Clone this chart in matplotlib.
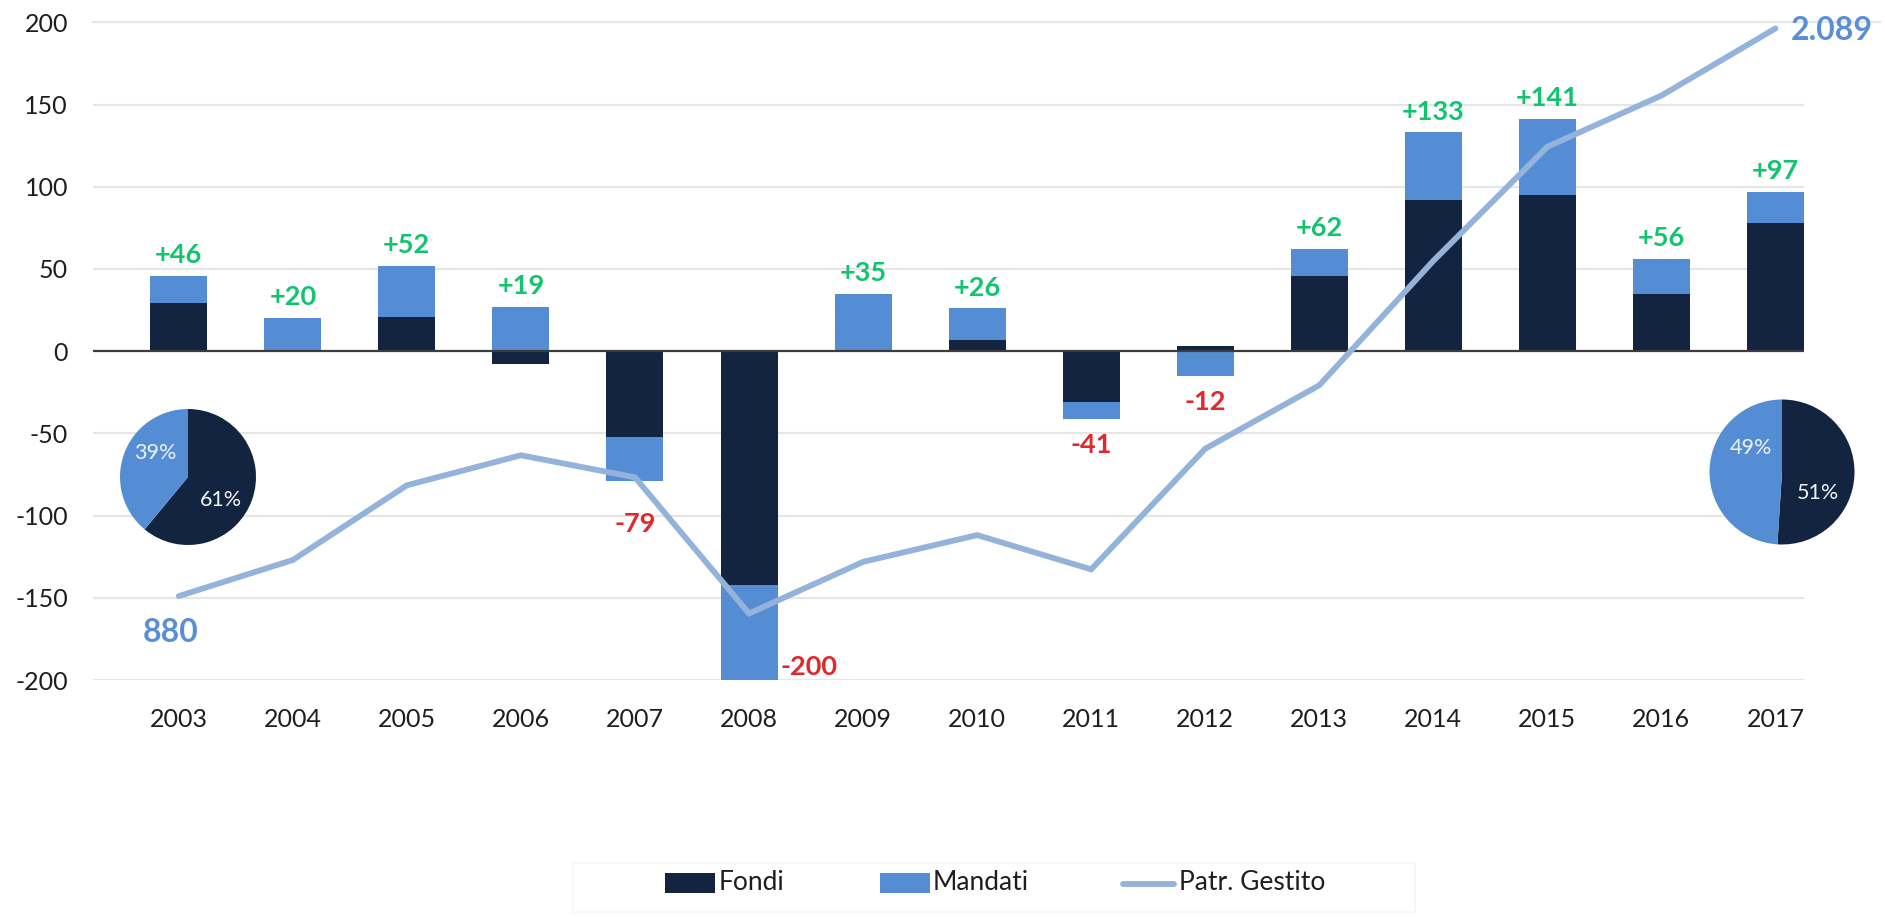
import matplotlib
matplotlib.use("Agg")
import matplotlib.pyplot as plt
import matplotlib.transforms as mtransforms
from matplotlib.patches import Rectangle
import numpy as np

plt.rcParams["font.family"] = ["Lato", "DejaVu Sans"]
plt.rcParams["axes.unicode_minus"] = False

# ---- data ---------------------------------------------------------------
years = ["2003", "2004", "2005", "2006", "2007", "2008", "2009", "2010",
         "2011", "2012", "2013", "2014", "2015", "2016", "2017"]
fondi = [29, 0, 21, -8, -52, -142, 0, 7, -31, 3, 46, 92, 95, 35, 78]
mandati = [17, 20, 31, 27, -27, -58, 35, 19, -10, -15, 16, 41, 46, 21, 19]
totals = [46, 20, 52, 19, -79, -200, 35, 26, -41, -12, 62, 133, 141, 56, 97]
patrimonio = [880, 957, 1116, 1180, 1133, 843, 953, 1010, 937, 1194,
              1329, 1594, 1837, 1946, 2089]
pie_2003 = [61, 39]   # Fondi, Mandati (%)
pie_2017 = [51, 49]
y_ticks = [-200, -150, -100, -50, 0, 50, 100, 150, 200]

# ---- style --------------------------------------------------------------
DARK = "#12243f"
LIGHT = "#558dd5"
LINE = "#94b3db"
GREEN = "#12c46e"
RED = "#e0282d"
BLUE_TXT = "#5a8fd7"
GRID = "#e6e6e6"
TXT = "#1e1e1e"

W, H = 1885, 918
fig = plt.figure(figsize=(W / 100, H / 100), dpi=100)
fig.patch.set_facecolor("white")

ax_l, ax_r, ax_t, ax_b = 93, 1804, 22.3, 680
ax = fig.add_axes([ax_l / W, 1 - ax_b / H, (ax_r - ax_l) / W, (ax_b - ax_t) / H])

x = np.arange(len(years))
ax.set_xlim(-0.752, 14.25)
ax.set_ylim(-200, 200)

# stacked bars: positives grow up from zero, negatives grow down
pos_base = np.zeros(len(x))
neg_base = np.zeros(len(x))
for vals, col in ((fondi, DARK), (mandati, LIGHT)):
    v = np.array(vals, dtype=float)
    bottom = np.where(v >= 0, pos_base, neg_base)
    ax.bar(x, v, bottom=bottom, width=0.5, color=col, linewidth=0, zorder=3)
    pos_base = pos_base + np.where(v > 0, v, 0)
    neg_base = neg_base + np.where(v < 0, v, 0)

# grid and zero line
for t in y_ticks:
    if t == 0:
        continue
    ax.axhline(t, color=GRID, lw=1.6, zorder=1)
ax.axhline(0, color="#3c3c3c", lw=1.6, zorder=4)
blend = mtransforms.blended_transform_factory(ax.transAxes, ax.transData)
ax.plot([0, (1880 - ax_l) / (ax_r - ax_l)], [200, 200], color=GRID, lw=1.6,
        transform=blend, clip_on=False, zorder=1)

for s in ax.spines.values():
    s.set_visible(False)
ax.set_yticks(y_ticks)
ax.set_yticklabels([str(t) for t in y_ticks])
ax.set_xticks(x)
ax.set_xticklabels(years)
ax.tick_params(axis="y", length=0, pad=18, labelsize=18, labelcolor=TXT)
ax.tick_params(axis="x", length=0, pad=20, labelsize=18, labelcolor=TXT)

# total labels, placed beyond the end of the stack
neg_offsets = {"2007": -31}
for i, t in enumerate(totals):
    if t >= 0:
        ax.annotate(f"+{t}", (i, pos_base[i]), xytext=(0, 15),
                    textcoords="offset points", ha="center", va="center",
                    fontsize=19.5, fontweight="bold", color=GREEN, zorder=6)
    elif t <= -200:
        ax.annotate(f"{t}", (i + 0.25, neg_base[i]), xytext=(2, 9.5),
                    textcoords="offset points", ha="left", va="center",
                    fontsize=19.5, fontweight="bold", color=RED, zorder=6)
    else:
        dy = neg_offsets.get(years[i], -19)
        ax.annotate(f"{t}", (i, neg_base[i]), xytext=(0, dy),
                    textcoords="offset points", ha="center", va="center",
                    fontsize=19.5, fontweight="bold", color=RED, zorder=6)

# managed assets line on its own scale
ax2 = ax.twinx()
ax2.set_ylim(701.4, 2102.0)
ax2.set_xlim(ax.get_xlim())
ax2.plot(x, patrimonio, color=LINE, lw=4.2, solid_joinstyle="miter",
         solid_capstyle="round", zorder=5)
ax2.axis("off")


def fmt_it(v):
    return f"{v:,}".replace(",", ".")


ax2.annotate(fmt_it(patrimonio[0]), (x[0], patrimonio[0]), xytext=(-6, -26),
             textcoords="offset points", ha="center", va="center",
             fontsize=23, fontweight="bold", color=BLUE_TXT)
ax2.annotate(fmt_it(patrimonio[-1]), (x[-1], patrimonio[-1]), xytext=(11, -1.5),
             textcoords="offset points", ha="left", va="center",
             fontsize=23, fontweight="bold", color=BLUE_TXT, annotation_clip=False)


# composition pies
def draw_pie(cx, cy, r, vals, pos):
    pax = fig.add_axes([(cx - r) / W, 1 - (cy + r) / H, 2 * r / W, 2 * r / H])
    pax.pie(vals, colors=[DARK, LIGHT], startangle=90, counterclock=False,
            wedgeprops=dict(linewidth=0))
    pax.set_xlim(-1, 1)
    pax.set_ylim(-1, 1)
    pax.set_aspect("equal")
    for v, (px, py) in zip(vals, pos):
        pax.text(px, py, f"{v}%", ha="center", va="center", fontsize=15.5,
                 color="#eef3fa")


draw_pie(188, 477, 68, pie_2003, [(0.49, -0.34), (-0.48, 0.35)])
draw_pie(1782, 472, 72.5, pie_2017, [(0.5, -0.29), (-0.43, 0.33)])

# legend
lax = fig.add_axes([0, 0, 1, 1])
lax.set_xlim(0, W)
lax.set_ylim(H, 0)
lax.axis("off")
lax.add_patch(Rectangle((573, 863), 842, 49, facecolor="white",
                        edgecolor="#f6f6f6", lw=1.2))
lax.add_patch(Rectangle((665, 873), 50, 20, facecolor=DARK, lw=0))
lax.text(719, 883, "Fondi", ha="left", va="center", fontsize=19, color=TXT)
lax.add_patch(Rectangle((880, 873), 50, 20, facecolor=LIGHT, lw=0))
lax.text(933, 883, "Mandati", ha="left", va="center", fontsize=19, color=TXT)
lax.plot([1123, 1174], [884, 884], color=LINE, lw=4.2, solid_capstyle="round")
lax.text(1179, 883, "Patr. Gestito", ha="left", va="center", fontsize=19, color=TXT)

fig.savefig("out.png", dpi=100, facecolor="white")
